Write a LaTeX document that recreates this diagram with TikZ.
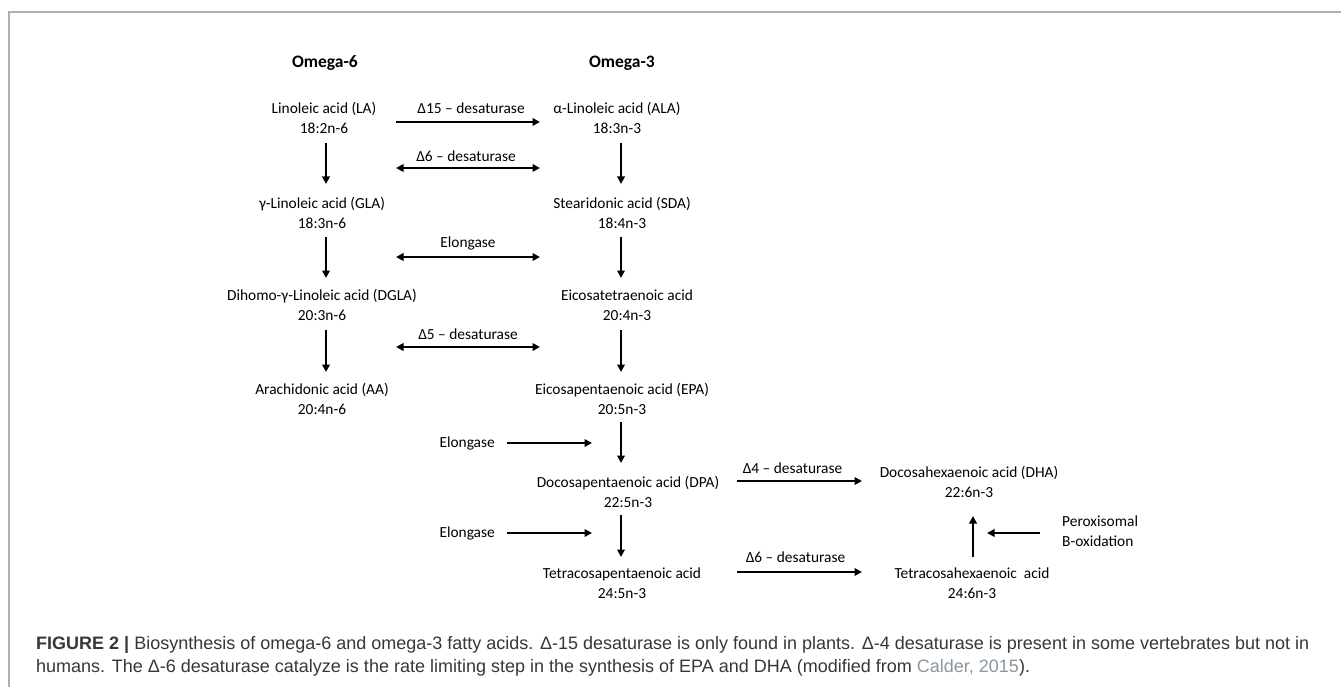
\documentclass[tikz,border=0pt]{standalone}
\usepackage{fontspec}
\setmainfont{Carlito}
\newfontfamily\capfont{Liberation Sans}
\usetikzlibrary{arrows.meta,calc}
\definecolor{framegray}{RGB}{175,175,175}
\definecolor{captext}{RGB}{55,55,55}
\definecolor{citegray}{RGB}{140,150,160}
\tikzset{
  chem/.style={align=center, font=\fontsize{15.4}{20}\selectfont, inner sep=0pt},
  hdr/.style={font=\fontsize{17.5}{20}\selectfont\bfseries, inner sep=0pt},
  lbl/.style={font=\fontsize{15.4}{20}\selectfont, inner sep=0pt},
  captxt/.style={font=\capfont\fontsize{18}{22}\selectfont, text=captext, inner sep=0pt, anchor=west},
  arr/.style={line width=2.3pt, -{Triangle[length=7.5pt,width=7.5pt]}},
  darr/.style={line width=2.3pt, {Triangle[length=7.5pt,width=7.5pt]}-{Triangle[length=7.5pt,width=7.5pt]}},
}
\begin{document}
\begin{tikzpicture}[x=1pt,y=-1pt]
\useasboundingbox[fill=white] (0,0) rectangle (1341,687);
\draw[framegray, line width=1.5pt] (1341,12) -- (9,12) -- (9,687);

% column coordinates
\coordinate (colL) at (326,0);
\coordinate (colR) at (621,0);
\coordinate (colD) at (973,0);
\coordinate (hL) at (396,0);
\coordinate (hR) at (540,0);
\coordinate (h4L) at (737,0);
\coordinate (h4R) at (862,0);

% headers
\node[hdr] (hd6) at (325,63) {Omega-6};
\node[hdr] (hd3) at (622,63) {Omega-3};

% compounds
\node[chem] (la)   at (324,118) {Linoleic acid (LA)\\18:2n-6};
\node[chem] (ala)  at (617,118) {α-Linoleic acid (ALA)\\18:3n-3};
\node[chem] (gla)  at (322,213) {γ-Linoleic acid (GLA)\\18:3n-6};
\node[chem] (sda)  at (622,213) {Stearidonic acid (SDA)\\18:4n-3};
\node[chem] (dgla) at (322,305) {Dihomo-γ-Linoleic acid (DGLA)\\20:3n-6};
\node[chem] (eta)  at (627,305) {Eicosatetraenoic acid\\20:4n-3};
\node[chem] (aa)   at (322,399) {Arachidonic acid (AA)\\20:4n-6};
\node[chem] (epa)  at (622,399) {Eicosapentaenoic acid (EPA)\\20:5n-3};
\node[chem] (dpa)  at (628,492) {Docosapentaenoic acid (DPA)\\22:5n-3};
\node[chem] (dha)  at (969,482) {Docosahexaenoic acid (DHA)\\22:6n-3};
\node[chem] (tpa)  at (622,583) {Tetracosapentaenoic acid\\24:5n-3};
\node[chem] (tha)  at (972,583) {Tetracosahexaenoic~~acid\\24:6n-3};
\node[chem, align=left, anchor=west] (perox) at (1062,531.5) {Peroxisomal\\B-oxidation};

% vertical arrows, omega-6
\draw[arr] ($(la.center-|colL)+(0,25)$) -- ($(gla.center-|colL)+(0,-29)$);
\draw[arr] ($(gla.center-|colL)+(0,24)$) -- ($(dgla.center-|colL)+(0,-27)$);
\draw[arr] ($(dgla.center-|colL)+(0,25)$) -- ($(aa.center-|colL)+(0,-27)$);
% vertical arrows, omega-3
\draw[arr] ($(ala.center-|colR)+(0,25)$) -- ($(sda.center-|colR)+(0,-29)$);
\draw[arr] ($(sda.center-|colR)+(0,24)$) -- ($(eta.center-|colR)+(0,-27)$);
\draw[arr] ($(eta.center-|colR)+(0,25)$) -- ($(epa.center-|colR)+(0,-27)$);
\draw[arr] ($(epa.center-|colR)+(0,23)$) -- ($(dpa.center-|colR)+(0,-29)$);
\draw[arr] ($(dpa.center-|colR)+(0,23)$) -- ($(tpa.center-|colR)+(0,-26)$);
% up arrow
\draw[arr] ($(tha.center-|colD)+(0,-26)$) -- ($(dha.center-|colD)+(0,34)$);

% horizontal arrows
\draw[arr] ($(la.center-|hL)+(0,4)$) -- ($(ala.center-|hR)+(0,4)$)
  node[lbl, midway, xshift=3pt, yshift=14pt] (l15) {Δ15 – desaturase};
\draw[darr] ($(la.center-|hL)+(0,50)$) -- ($(ala.center-|hR)+(0,50)$)
  node[lbl, midway, xshift=-2pt, yshift=12pt] (l6a) {Δ6 – desaturase};
\draw[darr] ($(gla.center-|hL)+(0,44)$) -- ($(sda.center-|hR)+(0,44)$)
  node[lbl, midway, yshift=14pt] (lel) {Elongase};
\draw[darr] ($(dgla.center-|hL)+(0,42)$) -- ($(eta.center-|hR)+(0,42)$)
  node[lbl, midway, yshift=13pt] (l5) {Δ5 – desaturase};
\draw[arr] ($(dpa.center-|h4L)+(0,-11)$) -- ($(dha.center-|h4R)+(0,-1)$)
  node[lbl, midway, xshift=-7pt, yshift=13pt] (l4) {Δ4 – desaturase};
\draw[arr] ($(tpa.center-|h4L)+(0,-11)$) -- ($(tha.center-|h4R)+(0,-11)$)
  node[lbl, midway, xshift=-4pt, yshift=15pt] (l6b) {Δ6 – desaturase};

% elongase side inputs
\node[lbl, anchor=east] (el1) at (495,443) {Elongase};
\coordinate (el1e) at (592,443);
\draw[arr] ([xshift=12pt]el1.east) -- (el1e);
\node[lbl, anchor=east] (el2) at (495,533) {Elongase};
\coordinate (el2e) at (592,533);
\draw[arr] ([xshift=12pt]el2.east) -- (el2e);

% peroxisomal input
\coordinate (poxe) at (987,533);
\draw[arr] ([xshift=-22pt,yshift=-1.5pt]perox.west) -- (poxe);

% caption
\node[captxt] (cap1) at (36,645) {\textbf{FIGURE 2 |} Biosynthesis of omega-6 and omega-3 fatty acids. Δ-15 desaturase is only found in plants. Δ-4 desaturase is present in some vertebrates but not in};
\node[captxt] (cap2) at (36,668) {humans. The Δ-6 desaturase catalyze is the rate limiting step in the synthesis of EPA and DHA (modified from \textcolor{citegray}{Calder, 2015}).};
\end{tikzpicture}
\end{document}
